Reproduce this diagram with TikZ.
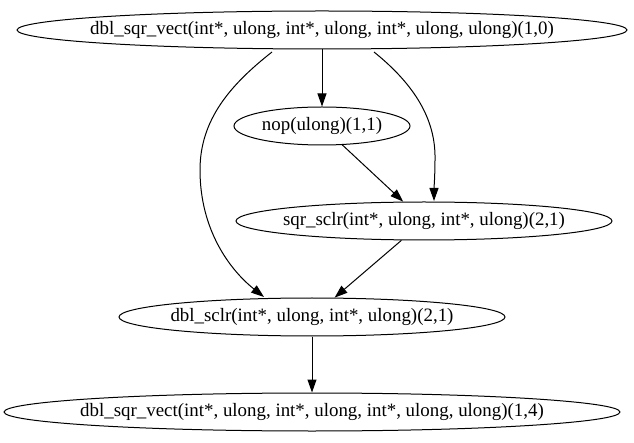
\documentclass[tikz,border=0pt]{standalone}
\usepackage{fontspec}
\setmainfont{Liberation Serif}
\usetikzlibrary{shapes.geometric,arrows.meta,calc}
\newcommand\tasklbl[1]{\makebox[0pt]{#1}}
\begin{document}
\begin{tikzpicture}[x=1pt,y=-1pt,
  task/.style={ellipse,draw,line width=1pt,inner sep=0pt,minimum height=38pt,font=\fontsize{18.9pt}{21pt}\selectfont},
  arr/.style={line width=1pt,-{Triangle[length=13pt,width=9pt]}}]
\useasboundingbox (0,0) rectangle (634,443);
\node[task,minimum width=610pt] (top) at (322,30) {\tasklbl{dbl\_sqr\_vect(int*, ulong, int*, ulong, int*, ulong, ulong)(1,0)}};
\node[task,minimum width=176pt] (nop) at (322,126) {\tasklbl{nop(ulong)(1,1)}};
\node[task,minimum width=376pt] (sqr) at (424,221) {\tasklbl{sqr\_sclr(int*, ulong, int*, ulong)(2,1)}};
\node[task,minimum width=386pt] (dbl) at (312,317) {\tasklbl{dbl\_sclr(int*, ulong, int*, ulong)(2,1)}};
\node[task,minimum width=616pt] (bot) at (312,412) {\tasklbl{dbl\_sqr\_vect(int*, ulong, int*, ulong, int*, ulong, ulong)(1,4)}};
\draw[arr] (top) -- (nop);
\draw[arr] (nop) -- (sqr);
\draw[arr] (sqr) -- (dbl);
\draw[arr] (dbl) -- (bot);
\draw[arr] ($(top.center)+(-50,22)$) .. controls (230,85) and (200,120) .. (200,170)
  .. controls (200,230) and (230,270) .. ($(dbl.center)+(-48,-20)$);
\draw[arr] ($(top.center)+(52,22)$) .. controls (415,85) and (436,120) .. (435,160)
  .. controls (435,175) and (434,188) .. ($(sqr.center)+(10,-20)$);
\end{tikzpicture}
\end{document}
